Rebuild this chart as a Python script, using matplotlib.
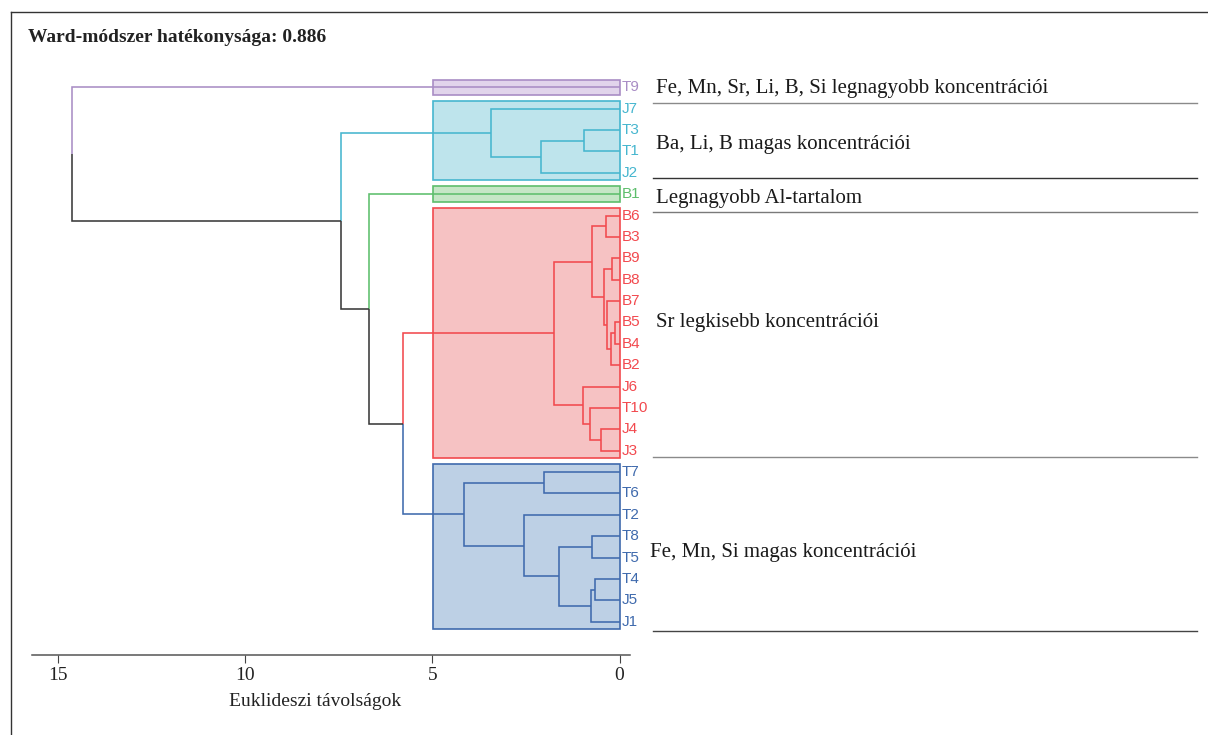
import matplotlib
matplotlib.use("Agg")
import matplotlib.pyplot as plt
from matplotlib.patches import Rectangle
from matplotlib.lines import Line2D

# ---------------- data ----------------
leaves = ["T9", "J7", "T3", "T1", "J2", "B1", "B6", "B3", "B9", "B8", "B7",
          "B5", "B4", "B2", "J6", "T10", "J4", "J3", "T7", "T6", "T2", "T8",
          "T5", "T4", "J5", "J1"]

# merges: children are leaf names or indices of earlier merges
merge_left = ["T3", 0, "J7", "B6", "B9", "B5", 5, "B7", 4, 3, "J4", "T10",
              "J6", 9, "T7", "T8", "T4", 16, 15, "T2", 14, 13, "B1", 2, "T9"]
merge_right = ["T1", "J2", 1, "B3", "B8", "B4", "B2", 6, 7, 8, "J3", 10,
               11, 12, "T6", "T5", "J5", "J1", 17, 18, 19, 20, 21, 22, 23]
merge_height = [0.94, 2.09, 3.42, 0.37, 0.21, 0.11, 0.24, 0.33, 0.42, 0.73,
                0.49, 0.80, 0.98, 1.76, 2.02, 0.73, 0.66, 0.77, 1.62, 2.54,
                4.16, 5.79, 6.68, 7.44, 14.61]

cluster_members = [["T9"],
                   ["J7", "T3", "T1", "J2"],
                   ["B1"],
                   ["B6", "B3", "B9", "B8", "B7", "B5", "B4", "B2", "J6",
                    "T10", "J4", "J3"],
                   ["T7", "T6", "T2", "T8", "T5", "T4", "J5", "J1"]]
cluster_line_colors = ["#A98DC5", "#46B6CF", "#5DBE6C", "#F2494E", "#3F6AAD"]
cluster_fill_colors = ["#E1D4EB", "#BEE4EC", "#C5E6C6", "#F6C2C3", "#BDD0E5"]
cut_height = 4.97

x_ticks = [15, 10, 5, 0]
x_label = "Euklideszi távolságok"
title = "Ward-módszer hatékonysága: 0.886"

annotations = ["Fe, Mn, Sr, Li, B, Si legnagyobb koncentrációi",
               "Ba, Li, B magas koncentrációi",
               "Legnagyobb Al-tartalom",
               "Sr legkisebb koncentrációi",
               "Fe, Mn, Si magas koncentrációi"]

# ---------------- layout ----------------
W, H = 1208, 735
DARK = "#3a3a3a"
SERIF = "Liberation Serif"
SANS = "Liberation Sans"

fig = plt.figure(figsize=(W / 100, H / 100), dpi=100)
fig.patch.set_facecolor("white")

def fx(px):
    return px / W

def fy(py):
    return 1 - py / H

ax_l, ax_r, ax_t, ax_b = 32.3, 630.0, 60.0, 655.3
ax = fig.add_axes([fx(ax_l), fy(ax_b), fx(ax_r - ax_l), (ax_b - ax_t) / H])
ax.set_facecolor("none")

# x: 0 at 619.5px, 37.45 px per unit
px0, ppu = 619.5, 37.45
ax.set_xlim((px0 - ax_l) / ppu, (px0 - ax_r) / ppu)
# y: leaf 0 at 87.3px, spacing 21.376 px
py0, spc = 87.3, 21.376
ax.set_ylim((ax_b - py0) / spc, (ax_t - py0) / spc)

# ---------------- dendrogram ----------------
leaf_pos = {name: i for i, name in enumerate(leaves)}
leaf_col = {}
for members, col in zip(cluster_members, cluster_line_colors):
    for m in members:
        leaf_col[m] = col

node_y, node_x, node_leaves = [], [], []

def child_info(c):
    if isinstance(c, str):
        return 0.0, float(leaf_pos[c]), [c]
    return node_x[c], node_y[c], node_leaves[c]

def color_of(lvs):
    cols = {leaf_col[l] for l in lvs}
    return cols.pop() if len(cols) == 1 else DARK

# boxes first
for members, lc, fc in zip(cluster_members, cluster_line_colors, cluster_fill_colors):
    ys = [leaf_pos[m] for m in members]
    y0, y1 = min(ys) - 0.36, max(ys) + 0.36
    ax.add_patch(Rectangle((0, y0), cut_height, y1 - y0, facecolor=fc,
                           edgecolor=lc, lw=1.2, zorder=1))

for a, b, h in zip(merge_left, merge_right, merge_height):
    xa, ya, la = child_info(a)
    xb, yb, lb = child_info(b)
    ym = (ya + yb) / 2
    for xc, yc, lc in ((xa, ya, la), (xb, yb, lb)):
        ax.plot([xc, h, h], [yc, yc, ym], color=color_of(lc), lw=1.15,
                solid_joinstyle="miter", solid_capstyle="butt", zorder=3)
    node_x.append(h)
    node_y.append(ym)
    node_leaves.append(la + lb)

for name in leaves:
    ax.annotate(name, xy=(0, leaf_pos[name]), xytext=(1.5, 0),
                textcoords="offset points", ha="left", va="center",
                fontsize=11, family=SANS, color=leaf_col[name],
                annotation_clip=False, zorder=4)

# ---------------- axis styling ----------------
for s in ("top", "left", "right"):
    ax.spines[s].set_visible(False)
ax.spines["bottom"].set_color("#555555")
ax.spines["bottom"].set_linewidth(1.1)
ax.set_yticks([])
ax.set_xticks(x_ticks)
ax.set_xticklabels([str(t) for t in x_ticks], family=SERIF, fontsize=14,
                   color="#222222")
ax.tick_params(axis="x", direction="out", length=5.5, width=0.8,
               color="#444444", pad=3)
ax.set_xlabel(x_label, family=SERIF, fontsize=14, color="#222222")
ax.xaxis.set_label_coords((315 - ax_l) / (ax_r - ax_l),
                          -(701.7 - ax_b) / (ax_b - ax_t))
ax.xaxis.label.set_va("center")

# ---------------- title, frame, annotations ----------------
fig.text(fx(28), fy(37), title, family=SERIF, fontweight="bold",
         fontsize=14, color="#222222", ha="left", va="center")

fig.add_artist(Line2D([fx(10.7), 1], [fy(12), fy(12)], color="#333333", lw=1.0))
fig.add_artist(Line2D([fx(10.7), fx(10.7)], [fy(12), 0], color="#333333", lw=1.0))

ann_x = [656, 656, 656, 656, 650]
ann_y = [88, 144, 198, 322, 553]
for t, x, y in zip(annotations, ann_x, ann_y):
    fig.text(fx(x), fy(y), t, family=SERIF, fontsize=15, color="#1a1a1a",
             ha="left", va="center")

rule_y = [102.5, 177.5, 211.5, 456.7, 631]
rule_c = ["#8a8a8a", "#333333", "#7a7a7a", "#8a8a8a", "#444444"]
for y, c in zip(rule_y, rule_c):
    fig.add_artist(Line2D([fx(653), fx(1197)], [fy(y), fy(y)], color=c, lw=1.0))

fig.savefig("out.png", dpi=100, facecolor="white")
